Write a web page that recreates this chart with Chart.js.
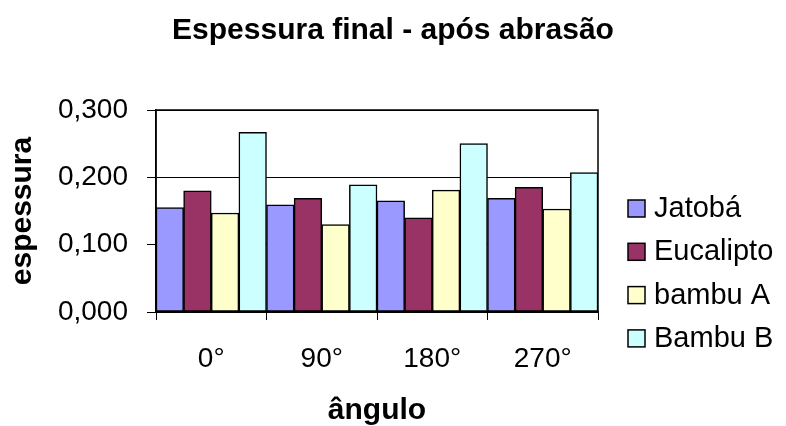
<!DOCTYPE html>
<html>
<head>
<meta charset="utf-8">
<script src="https://cdn.jsdelivr.net/npm/chart.js@4"></script>
<style>
  body { margin: 0; background: #fff; }
  #wrap { width: 786px; height: 426px; }
</style>
</head>
<body>
<div id="wrap"><canvas id="chart"></canvas></div>
<script>
// data
const categories = ['0°', '90°', '180°', '270°'];
const seriesNames = ['Jatobá', 'Eucalipto', 'bambu A', 'Bambu B'];
const jatoba    = [0.155, 0.159, 0.165, 0.169];
const eucalipto = [0.180, 0.169, 0.140, 0.185];
const bambuA    = [0.147, 0.130, 0.181, 0.153];
const bambuB    = [0.267, 0.189, 0.250, 0.207];
const colors = ['#9999ff', '#993366', '#ffffcc', '#ccffff'];

const FONT = '"Liberation Sans", Arial, sans-serif';

// plot frame (top + right edge, like the excel box)
const framePlugin = {
  id: 'frame',
  beforeDatasetsDraw(chart) {
    const { ctx, chartArea: a } = chart;
    ctx.save();
    ctx.strokeStyle = '#000';
    ctx.lineWidth = 1.5;
    ctx.strokeRect(a.left, a.top, a.right - a.left, a.bottom - a.top);
    ctx.restore();
  }
};

// legend drawn by hand so it sits where excel put it
const legendPlugin = {
  id: 'sideLegend',
  afterDraw(chart) {
    const ctx = chart.ctx;
    ctx.save();
    ctx.font = '29px ' + FONT;
    ctx.textBaseline = 'middle';
    ctx.textAlign = 'left';
    chart.data.datasets.forEach((ds, i) => {
      const cy = 208 + i * 43.3;
      ctx.fillStyle = ds.backgroundColor;
      ctx.fillRect(628, cy - 8, 17, 17);
      ctx.strokeStyle = '#000';
      ctx.lineWidth = 1.5;
      ctx.strokeRect(628, cy - 8, 17, 17);
      ctx.fillStyle = '#000';
      ctx.fillText(ds.label, 654, cy + 1);
    });
    ctx.restore();
  }
};

const values = [jatoba, eucalipto, bambuA, bambuB];

new Chart(document.getElementById('chart'), {
  type: 'bar',
  data: {
    labels: categories,
    datasets: seriesNames.map((name, i) => ({
      label: name,
      data: values[i],
      backgroundColor: colors[i],
      borderColor: '#000',
      borderWidth: 1.5,
      borderSkipped: false,
      categoryPercentage: 1.0,
      barPercentage: 1.0
    }))
  },
  options: {
    responsive: true,
    maintainAspectRatio: false,
    animation: false,
    layout: { padding: 0 },
    plugins: {
      legend: { display: false },
      tooltip: { enabled: false },
      title: {
        display: true,
        text: 'Espessura final - após abrasão',
        color: '#000',
        font: { family: FONT, size: 30, weight: 'bold' },
        padding: { top: 13, bottom: 61 }
      }
    },
    scales: {
      x: {
        grid: { display: true, drawOnChartArea: false, drawTicks: true, tickLength: 8, color: '#000', offset: true },
        border: { display: true, color: '#000', width: 1.5 },
        ticks: { color: '#000', font: { family: FONT, size: 28 }, padding: 22, maxRotation: 0 },
        title: {
          display: true,
          text: 'ângulo',
          color: '#000',
          font: { family: FONT, size: 30, weight: 'bold', lineHeight: 1.0 },
          padding: { top: 0, bottom: 0 }
        },
        afterFit(scale) { scale.height = 114; }
      },
      y: {
        min: 0,
        max: 0.3,
        grid: { color: '#000', lineWidth: 1, tickLength: 9, drawTicks: true },
        border: { display: true, color: '#000', width: 1.5 },
        ticks: {
          stepSize: 0.1,
          color: '#000',
          padding: 19,
          font: { family: FONT, size: 28 },
          callback: v => v.toFixed(3).replace('.', ',')
        },
        title: {
          display: true,
          text: 'espessura',
          color: '#000',
          font: { family: FONT, size: 30, weight: 'bold' },
          padding: { top: 5, bottom: 0 }
        },
        afterFit(scale) { scale.width = 156; }
      },
      // empty right-hand axis that only keeps room for the legend
      side: {
        position: 'right',
        display: true,
        grid: { display: false },
        border: { display: false },
        ticks: { display: false },
        afterFit(scale) { scale.width = 188; }
      }
    }
  },
  plugins: [framePlugin, legendPlugin]
});
</script>
</body>
</html>
